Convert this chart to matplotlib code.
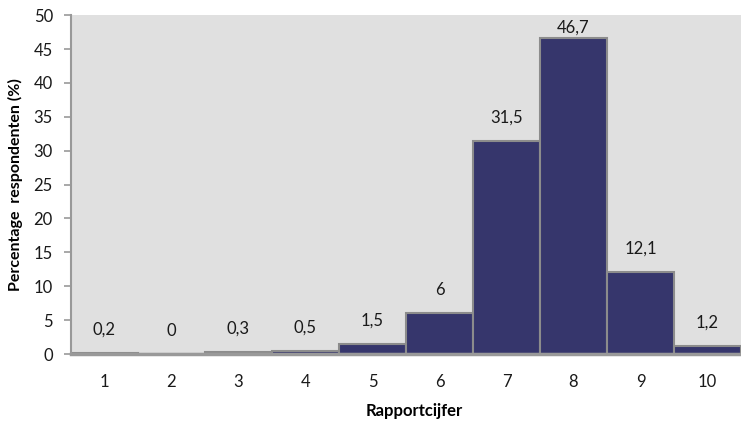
import numpy as np
import matplotlib.pyplot as plt

plt.rcParams['font.family'] = ['Lato', 'DejaVu Sans']

cijfers = [1, 2, 3, 4, 5, 6, 7, 8, 9, 10]
percentages = [0.2, 0, 0.3, 0.5, 1.5, 6, 31.5, 46.7, 12.1, 1.2]
labels = ['0,2', '0', '0,3', '0,5', '1,5', '6', '31,5', '46,7', '12,1', '1,2']

fig = plt.figure(figsize=(7.41, 4.21), dpi=100)
ax = fig.add_axes([0.0958, 0.159, 0.9042, 0.805])
ax.set_facecolor('#e0e0e0')

ax.bar(cijfers, percentages, width=1.0, color='#36366c',
       edgecolor='#8c8c8c', linewidth=1.5, zorder=2)

for x, v, s in zip(cijfers, percentages, labels):
    ax.text(x, min(v + 3.4, 48.1), s, ha='center', va='center',
            fontsize=12, color='#1a1a1a', zorder=3)

ax.set_xlim(0.5, 10.5)
ax.set_ylim(0, 50)
ax.set_yticks(np.arange(0, 51, 5))
ax.set_xticks(cijfers)

for side in ['top', 'right']:
    ax.spines[side].set_visible(False)
ax.spines['left'].set_color('#999999')
ax.spines['left'].set_linewidth(1.5)
ax.spines['bottom'].set_color('#999999')
ax.spines['bottom'].set_linewidth(2.5)

ax.tick_params(axis='y', length=5, width=1.2, color='#999999',
               labelsize=12, pad=8, labelcolor='#1a1a1a')
ax.tick_params(axis='x', length=0, labelsize=12, pad=14,
               labelcolor='#1a1a1a')

ax.set_xlabel('Rapportcijfer', fontsize=12, fontweight='bold',
              labelpad=10, x=0.513)
ax.set_ylabel('Percentage  respondenten (%)', fontsize=11.5,
              fontweight='bold', labelpad=8)

fig.savefig('out.png', dpi=100)
